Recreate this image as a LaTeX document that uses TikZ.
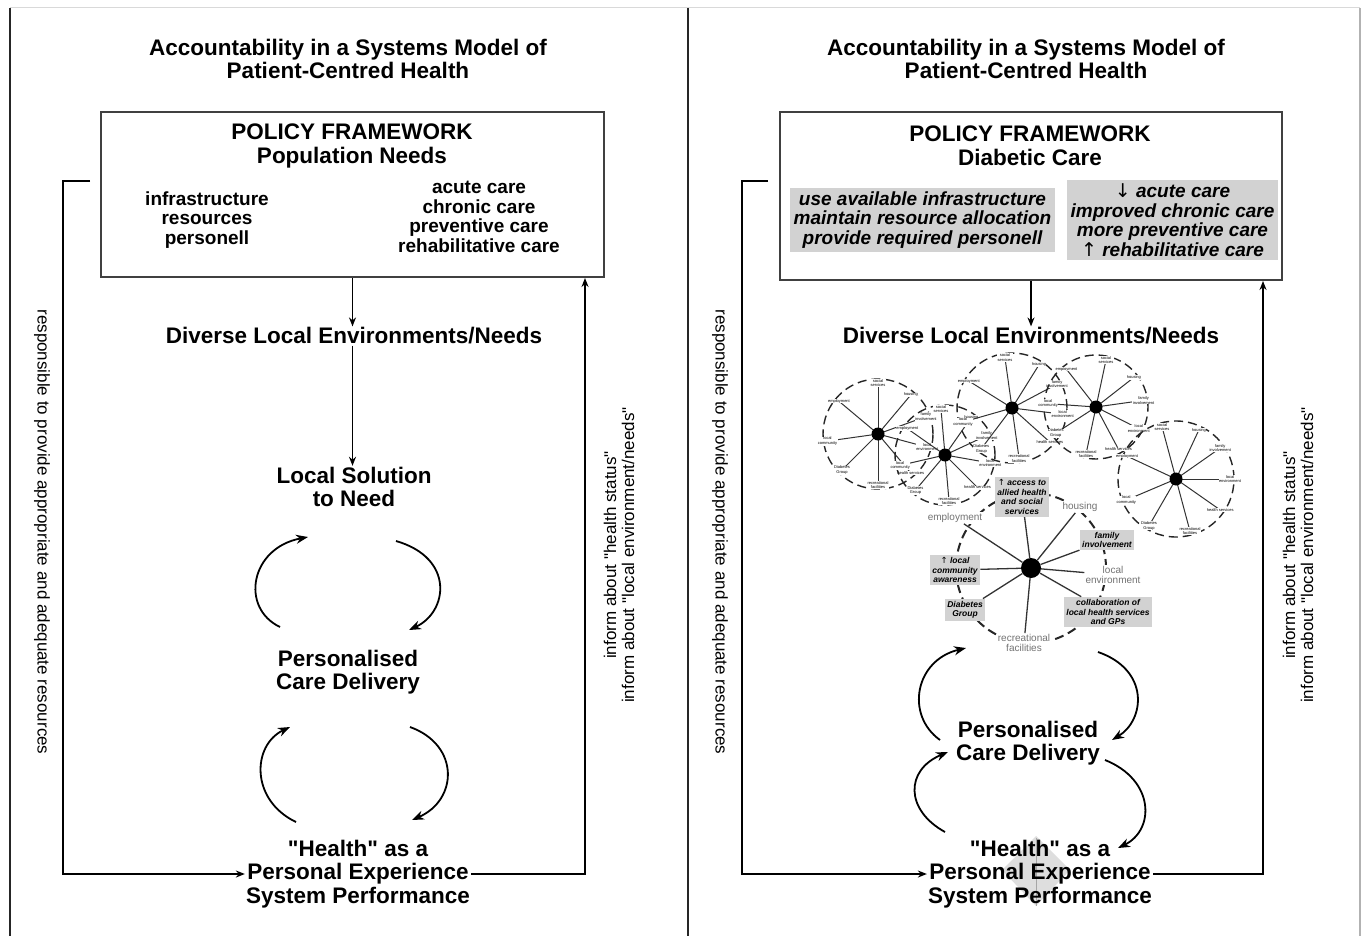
\documentclass[tikz,border=0pt]{standalone}
\usepackage{fontspec}
\setmainfont{Liberation Sans}
\newfontfamily\lsans{Liberation Sans}
\newfontfamily\arrowfont{DejaVu Sans}
\usetikzlibrary{arrows.meta,positioning}

\begin{document}
\begin{tikzpicture}[x=1pt, y=-1pt,
  lbl/.style = {font=\lsans\fontsize{22.5}{23.5}\selectfont\bfseries, align=center, inner sep=1pt},
  lst/.style = {font=\lsans\fontsize{19}{19.5}\selectfont\bfseries, align=center, inner sep=1pt},
  ilst/.style = {font=\lsans\fontsize{19}{19.5}\selectfont\bfseries\itshape, fill=gray!35, align=center, inner sep=4pt},
  side/.style = {font=\lsans\fontsize{17}{18}\selectfont, align=center, inner sep=1pt},
  pbox/.style = {draw=black!75, line width=2pt, minimum width=503pt, minimum height=165pt},
  flow/.style = {line width=1.8pt, -{Stealth[length=9pt,width=7pt]}},
  cyc/.style = {line width=1.8pt, -{Stealth[length=12pt,width=9pt]}},
  hub/.style = {circle, fill=black, minimum size=20pt, inner sep=0pt},
  ntxt/.style = {font=\lsans\fontsize{10}{10}\selectfont, text=black!55, fill=white, align=center, inner sep=1pt},
  nbox/.style = {font=\lsans\fontsize{8.5}{9.5}\selectfont\bfseries\itshape, fill=gray!35, align=center, inner sep=2.5pt},
  spoke/.style = {line width=1.3pt, black!80},
  rim/.style = {line width=2pt, dash pattern=on 9pt off 5pt, black!85},
  tinylbl/.style = {font=\lsans\fontsize{4}{4.5}\selectfont, fill=white, align=center, inner sep=0.4pt}
]
\fill[white] (0,0) rectangle (1367,939);
\draw[gray!30, line width=1pt] (10,8) -- (1360,8);
\draw[black!85, line width=2pt] (10,8) -- (10,936);
\draw[black!85, line width=2pt] (688,8) -- (688,936);
\draw[gray!60, line width=2pt] (1360,8) -- (1360,936);

% left panel
\node[lbl] (ttlL) at (348,59) {Accountability in a Systems Model of\\Patient-Centred Health};
\node[pbox] (pfL) at (352.5,194.5) {};
\node[lbl] (pfLt) at (352,146) {POLICY FRAMEWORK\\Population Needs};
\node[lst] (resL) at (207,220) {infrastructure\\resources\\personell};
\node[lst] (careL) at (479,217) {acute care\\chronic care\\preventive care\\rehabilitative care};
\node[lbl] (divL) at (354,336) {Diverse Local Environments/Needs};
\node[lbl] (solL) at (354,487) {Local Solution\\to Need};
\node[lbl] (pcdL) at (348,672) {Personalised\\Care Delivery};
\node[lbl] (hthL) at (358,874) {"Health" as a\\Personal Experience\\System Performance};
\node[side, rotate=-90] (respL) at (42,532) {responsible to provide appropriate and adequate resources};
\node[side, rotate=90] (infL) at (619,555) {inform about "health status"\\inform about "local environment/needs"};

\draw[flow] (pfL.south) -- (pfL.south |- divL.north);
\draw[flow] (pfL.south |- divL.south) -- (pfL.south |- solL.north);
\coordinate (stubL) at (90,181);
\draw[flow] (stubL) -| (63,874) -- (hthL.west);
\draw[flow] (hthL.east) -| ([xshift=-20pt]pfL.south east);

\draw[cyc] (280,627) .. controls (240,608) and (250,548) .. (308,537);
\draw[cyc] (396,541) .. controls (455,558) and (448,612) .. (409,630);
\draw[cyc] (296,822) .. controls (250,800) and (252,745) .. (290,727);
\draw[cyc] (410,727) .. controls (460,745) and (458,800) .. (412,820);

% right panel
\node[lbl] (ttlR) at (1026,59) {Accountability in a Systems Model of\\Patient-Centred Health};
\node[pbox, minimum width=502pt, minimum height=168pt] (pfR) at (1031,196) {};
\node[lbl] (pfRt) at (1030,146) {POLICY FRAMEWORK\\Diabetic Care};
\node[ilst] (resR) at (922.5,220) {use available infrastructure\\maintain resource allocation\\provide required personell};
\node[ilst] (careR) at (1172.5,220) {{\arrowfont\mdseries\upshape ↓} acute care\\improved chronic care\\more preventive care\\{\arrowfont\mdseries\upshape ↑} rehabilitative care};
\node[lbl] (divR) at (1031,336) {Diverse Local Environments/Needs};
\draw[flow] (pfR.south) -- (pfR.south |- divR.north);

% local networks
\foreach \hx/\hy/\hr/\rot in {878/434/55/0, 945/455/50/-5, 1012/408/55/-8, 1096/407/52/12, 1176/479/58/-15}{
  \begin{scope}[shift={(\hx,\hy)}]
    \draw[rim, line width=1.4pt] (0,0) circle (\hr pt);
    \foreach \a/\lab in {-90/{social\\services}, -50/housing, -20/{family\\involvement}, 15/{local\\environment}, 50/{health services}, 90/{recreational\\facilities}, 135/{Diabetes\\Group}, 172/{local\\community}, -140/employment}{
      \draw[spoke, line width=1pt] (0,0) -- (\a+\rot:\hr-6);
      \node[tinylbl] at (\a+\rot:\hr-4) {\lab};
    }
    \node[hub, minimum size=13pt] at (0,0) {};
  \end{scope}
}

\coordinate (hubc) at (1031,568);
\draw[rim, fill=white] (hubc) circle (75pt);
\node[nbox] (acc) at (1022,497) {{\arrowfont\mdseries\upshape ↑} access to\\allied health\\and social\\services};
\node[ntxt] (hous) at (1080,507) {housing};
\node[ntxt] (empl) at (955,518) {employment};
\node[nbox] (fam) at (1107,540) {family\\involvement};
\node[ntxt] (lenv) at (1113,575) {local\\environment};
\node[nbox] (comm) at (955,570) {{\arrowfont\mdseries\upshape ↑} local\\community\\awareness};
\node[nbox] (diab) at (965,610) {Diabetes\\Group};
\node[nbox] (coll) at (1108,612) {collaboration of\\local health services\\and GPs};
\node[ntxt] (recr) at (1024,643) {recreational\\facilities};
\node[hub] (hub) at (hubc) {};
\foreach \n in {acc,hous,empl,fam,lenv,comm,diab,coll,recr}
  \draw[spoke] (hub) -- (\n);

\fill[gray!50, opacity=0.5] (1036,836) -- (1070,870) -- (1036,906) -- (1002,870) -- cycle;
\draw[gray!70, line width=1pt] (1036,838) -- (1036,906);

\node[lbl] (pcdR) at (1028,743) {Personalised\\Care Delivery};
\node[lbl] (hthR) at (1040,874) {"Health" as a\\Personal Experience\\System Performance};
\node[side, rotate=-90] (respR) at (720,532) {responsible to provide appropriate and adequate resources};
\node[side, rotate=90] (infR) at (1298,555) {inform about "health status"\\inform about "local environment/needs"};

\coordinate (stubR) at (768,181);
\draw[flow] (stubR) -| (742,874) -- (hthR.west);
\draw[flow] (hthR.east) -| ([xshift=-20pt]pfR.south east);

\draw[cyc] (940,740) .. controls (905,715) and (915,660) .. (966,648);
\draw[cyc] (1098,652) .. controls (1150,670) and (1145,720) .. (1112,740);
\draw[cyc] (945,832) .. controls (905,810) and (905,770) .. (948,752);
\draw[cyc] (1105,760) .. controls (1155,780) and (1155,830) .. (1118,848);
\end{tikzpicture}
\end{document}
